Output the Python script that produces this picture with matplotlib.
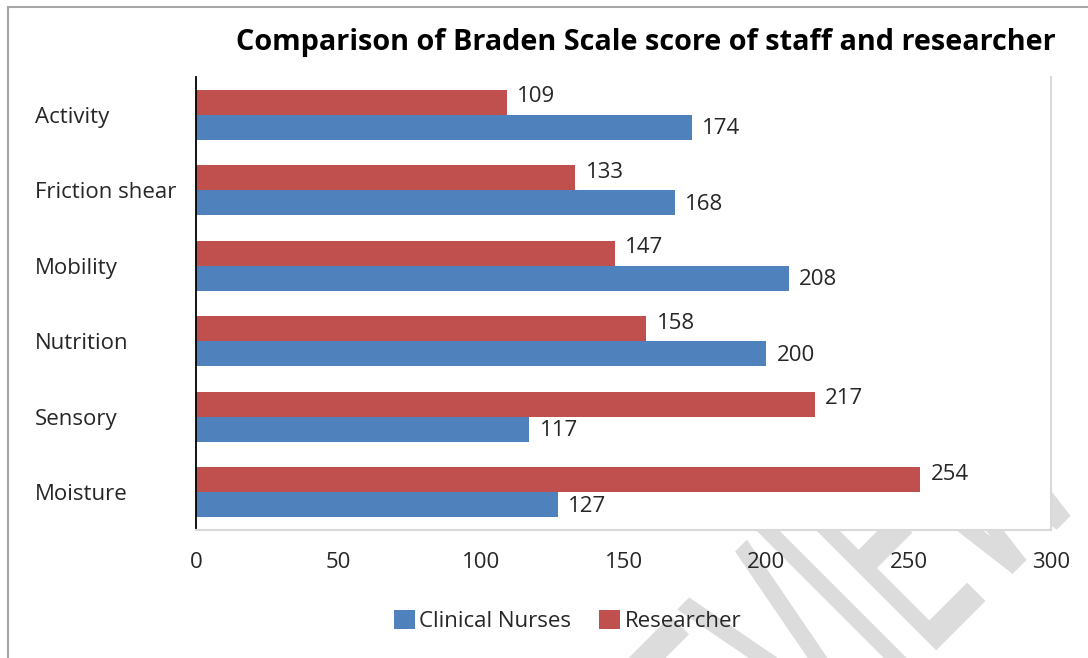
import matplotlib.pyplot as plt
import numpy as np
from matplotlib.patches import Patch, PathPatch, Rectangle
from matplotlib.textpath import TextPath
from matplotlib.font_manager import FontProperties
from matplotlib.transforms import Affine2D


# Chart data (top to bottom as shown)
categories = ["Activity", "Friction shear", "Mobility", "Nutrition", "Sensory", "Moisture"]
clinical_nurses = [174, 168, 208, 200, 117, 127]
researcher = [109, 133, 147, 158, 217, 254]
series_names = ["Clinical Nurses", "Researcher"]
x_ticks = [0, 50, 100, 150, 200, 250, 300]

BLUE = "#4F81BD"
RED = "#C0504D"
TEXT = "#262626"
FS = 16

plt.rcParams["font.family"] = ["Open Sans", "DejaVu Sans"]

fig = plt.figure(figsize=(10.88, 6.58), dpi=100)
ax = fig.add_axes([0.1801, 0.1945, 0.786, 0.6885])

# Researcher bar sits above the Clinical Nurses bar in each group
y = np.arange(len(categories))[::-1]
h = 0.331
bars_r = ax.barh(y + h / 2, researcher, height=h, color=RED)
bars_c = ax.barh(y - h / 2, clinical_nurses, height=h, color=BLUE)
labels_r = ax.bar_label(bars_r, padding=7.5, fontsize=FS, color=TEXT)
labels_c = ax.bar_label(bars_c, padding=7.5, fontsize=FS, color=TEXT)
# Excel nudges the labels slightly off the bar centre
for ann in labels_r:
    ann.xyann = (7.5, 4.0)
for ann in labels_c:
    ann.xyann = (7.5, -1.0)

ax.set_xlim(0, 300)
ax.set_ylim(-0.5, len(categories) - 0.5)
ax.set_xticks(x_ticks)
ax.set_yticks(y)
ax.set_yticklabels(categories)
ax.tick_params(axis="y", length=0, pad=116, labelsize=FS, labelcolor=TEXT)
ax.tick_params(axis="x", length=0, pad=15.5, labelsize=FS, labelcolor=TEXT)
for lbl in ax.get_yticklabels():
    lbl.set_horizontalalignment("left")

ax.spines["top"].set_visible(False)
ax.spines["left"].set_color("black")
ax.spines["left"].set_linewidth(1.3)
for side in ["right", "bottom"]:
    ax.spines[side].set_color("#d9d9d9")
    ax.spines[side].set_linewidth(1.5)

fig.text(0.594, 0.936, "Comparison of Braden Scale score of staff and researcher",
         ha="center", va="center", fontsize=20.8, fontweight="bold", color="black")

handles = [Patch(facecolor=BLUE), Patch(facecolor=RED)]
fig.legend(handles, series_names, loc="center", bbox_to_anchor=(0.5216, 0.0562),
           ncol=2, frameon=False, fontsize=FS, handlelength=0.95, handleheight=0.95,
           handletextpad=0.2, columnspacing=1.25, labelcolor=TEXT)

# outer frame of the screenshot
fig.add_artist(Rectangle((0.0074, -0.05), 1.1, 1.039, transform=fig.transFigure,
                         fill=False, edgecolor="#a6a6a6", lw=1.5, clip_on=False))

# light grey "PREVIEW" watermark behind the plot area
wm_path = TextPath((0, 0), "PREVIEW", size=288, prop=FontProperties(family="DejaVu Sans"))
wm_tf = Affine2D().scale(0.5, 1.0).rotate_deg(45).translate(630, -297)
fig.add_artist(PathPatch(wm_path, transform=wm_tf, facecolor="#dcdcdc",
                         edgecolor="#dcdcdc", lw=1.5, zorder=-1))

fig.savefig("out.png", dpi=100)
